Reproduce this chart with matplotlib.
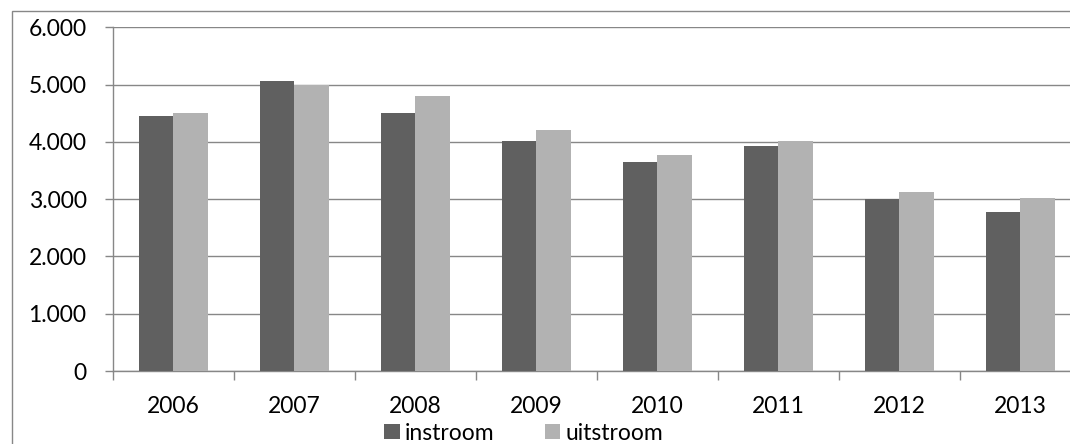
import matplotlib
matplotlib.use('Agg')
import matplotlib.pyplot as plt
import numpy as np
from matplotlib.ticker import FuncFormatter, FixedLocator
from matplotlib.patches import Rectangle

# data
years = ['2006', '2007', '2008', '2009', '2010', '2011', '2012', '2013']
instroom = [4450, 5070, 4505, 4020, 3655, 3925, 3005, 2770]
uitstroom = [4500, 4990, 4800, 4210, 3770, 4010, 3130, 3020]

dark = '#606060'
light = '#b2b2b2'
line_col = '#878787'
fs = 16.5

plt.rcParams['font.family'] = ['Lato', 'DejaVu Sans']

fig = plt.figure(figsize=(10.7, 4.44), dpi=100)
# plot area runs a bit past the right edge, like the cropped original
ax = fig.add_axes([112.7 / 1070, 73 / 444, 968.3 / 1070, 343.7 / 444])

x = np.arange(len(years))
w = 0.286
ax.bar(x - w / 2, instroom, w, color=dark, label='instroom', zorder=3)
ax.bar(x + w / 2, uitstroom, w, color=light, label='uitstroom', zorder=3)

ax.set_xlim(-0.5, len(years) - 0.5)
ax.set_ylim(0, 6000)
ax.set_yticks(np.arange(0, 6001, 1000))
ax.yaxis.set_major_formatter(FuncFormatter(lambda v, p: f"{int(v):,}".replace(',', '.')))
ax.grid(axis='y', color=line_col, linewidth=1.0, zorder=0)
ax.set_axisbelow(True)

ax.set_xticks(x)
ax.set_xticklabels(years)
ax.xaxis.set_minor_locator(FixedLocator(np.arange(-0.5, len(years), 1.0)))
ax.tick_params(axis='x', which='major', length=0, pad=18, labelsize=fs, labelcolor='black')
ax.tick_params(axis='x', which='minor', length=6.5, width=1.0, color=line_col, direction='out')
ax.tick_params(axis='y', length=5.8, width=1.0, color=line_col, pad=13, labelsize=fs)

for s in ['top', 'right']:
    ax.spines[s].set_visible(False)
for s in ['left', 'bottom']:
    ax.spines[s].set_color(line_col)
    ax.spines[s].set_linewidth(1.0)

leg = fig.legend(loc='center', bbox_to_anchor=(523.5 / 1070, 11 / 444), ncol=2,
                 frameon=False, fontsize=fs, handlelength=0.68, handleheight=0.68,
                 handletextpad=0.22, columnspacing=2.2, borderaxespad=0)

# outer chart border (cropped at right and bottom)
fig.patches.append(Rectangle((12.3 / 1070, -0.1), 1.2, 0.1 + (444 - 10.7) / 444,
                             transform=fig.transFigure, fill=False,
                             edgecolor=line_col, linewidth=1.0))

fig.savefig('out.png', dpi=100)
